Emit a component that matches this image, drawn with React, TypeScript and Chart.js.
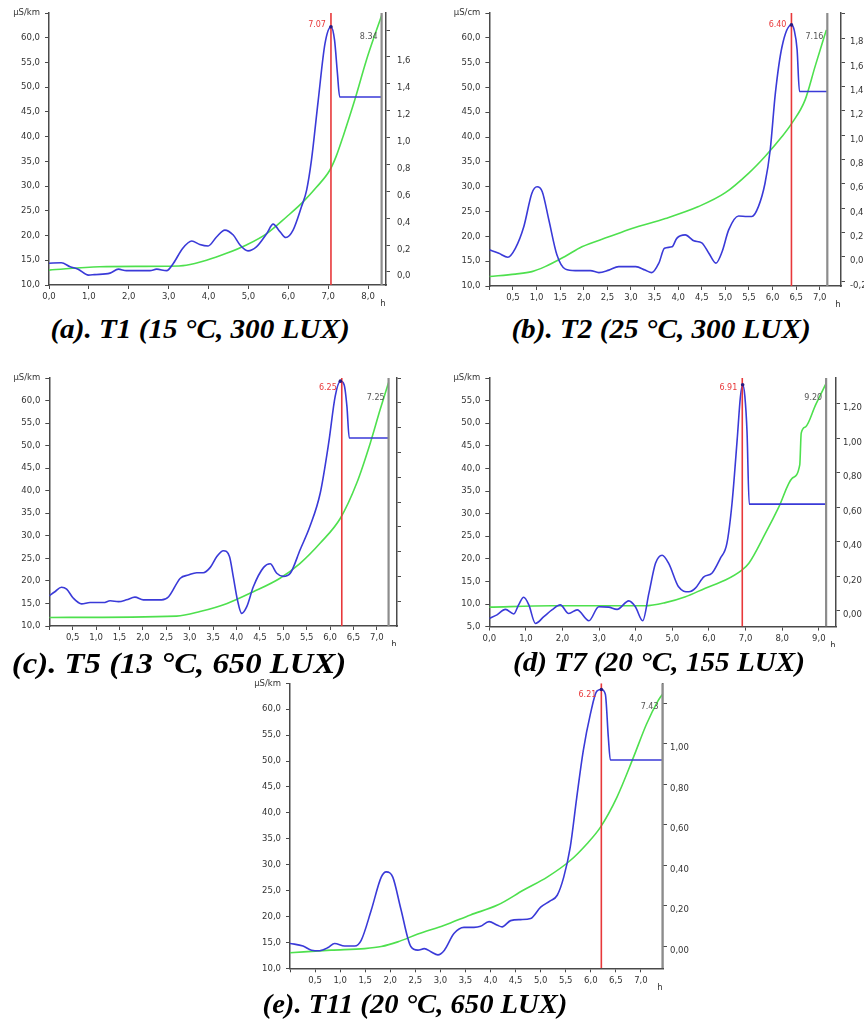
import React, { useEffect, useRef } from "react";
import { Chart, registerables } from "chart.js";
Chart.register(...registerables);

// ---------- Panel (a) T1 ----------
const aBlueH = [0, 0.31, 0.53, 0.73, 0.99, 1.14, 1.53, 1.74, 1.94, 2.53, 2.7, 2.95, 3.12, 3.35, 3.58, 3.78, 3.99, 4.2, 4.41, 4.62, 4.79, 4.99, 5.2, 5.46, 5.62, 5.79, 5.94, 6.12, 6.33, 6.46, 6.58, 6.75, 6.92, 7.07, 7.16, 7.23, 7.29, 8.34];
const aBlueV = [14.4, 14.5, 13.7, 13.2, 12.0, 12.1, 12.4, 13.2, 12.9, 12.9, 13.2, 12.9, 14.4, 17.4, 18.9, 18.2, 17.9, 19.7, 21.1, 20.1, 18.1, 16.9, 17.7, 20.4, 22.3, 20.8, 19.6, 21.1, 25.8, 29.2, 35.2, 47.3, 58.8, 62.2, 59.5, 53.0, 48.0, 48.0];
const aGreenH = [0, 1.27, 2.94, 3.44, 3.95, 4.45, 4.95, 5.46, 5.96, 6.37, 6.71, 7.04, 7.2, 7.38, 7.67, 7.96, 8.21, 8.34];
const aGreenV = [13.0, 13.7, 13.8, 14.0, 15.0, 16.4, 18.1, 20.4, 23.8, 26.8, 29.8, 33.2, 36.0, 40.2, 47.5, 55.5, 61.5, 64.5];
const aXTicks = [0, 1, 2, 3, 4, 5, 6, 7, 8];
const aYTicks = [10, 15, 20, 25, 30, 35, 40, 45, 50, 55, 60, 65];
const aRTicks = [0, 0.2, 0.4, 0.6, 0.8, 1.0, 1.2, 1.4, 1.6, 1.8];
const aMarkers = [7.07, 8.34];

// ---------- Panel (b) T2 ----------
const bBlueH = [0, 0.2, 0.39, 0.55, 0.73, 0.9, 1.01, 1.12, 1.26, 1.43, 1.61, 1.82, 2.14, 2.32, 2.53, 2.74, 3.1, 3.3, 3.44, 3.59, 3.71, 3.87, 3.97, 4.15, 4.33, 4.5, 4.65, 4.8, 4.93, 5.07, 5.28, 5.46, 5.56, 5.7, 5.84, 5.95, 6.06, 6.2, 6.4, 6.46, 6.52, 6.57, 7.16];
const bBlueV = [17.3, 16.6, 15.8, 17.6, 22.0, 28.7, 30.0, 29.0, 23.3, 16.3, 13.4, 13.1, 13.1, 12.7, 13.2, 13.9, 13.9, 13.2, 12.7, 14.6, 17.6, 17.9, 19.6, 20.3, 19.1, 18.7, 16.6, 14.6, 16.9, 21.3, 24.1, 24.0, 24.0, 26.0, 30.7, 37.4, 48.9, 58.2, 62.6, 61.5, 57.6, 49.2, 49.2];
const bGreenH = [0, 0.55, 0.9, 1.18, 1.61, 1.96, 2.53, 3.02, 3.73, 4.43, 5.0, 5.49, 5.84, 6.2, 6.41, 6.69, 6.9, 7.14];
const bGreenV = [11.9, 12.4, 12.9, 13.9, 16.0, 17.9, 19.9, 21.6, 23.6, 26.0, 28.8, 32.7, 36.1, 40.1, 42.8, 47.5, 54.2, 61.6];
const bXTicks = [0, 0.5, 1, 1.5, 2, 2.5, 3, 3.5, 4, 4.5, 5, 5.5, 6, 6.5, 7];
const bYTicks = [10, 15, 20, 25, 30, 35, 40, 45, 50, 55, 60, 65];
const bRTicks = [-0.2, 0, 0.2, 0.4, 0.6, 0.8, 1.0, 1.2, 1.4, 1.6, 1.8, 2.0];
const bMarkers = [6.4, 7.16];

// ---------- Panel (c) T5 ----------
const cBlueH = [0, 0.12, 0.26, 0.37, 0.51, 0.69, 0.87, 1.16, 1.3, 1.48, 1.65, 1.83, 2.01, 2.4, 2.55, 2.8, 2.97, 3.15, 3.29, 3.44, 3.58, 3.72, 3.85, 3.93, 4.02, 4.11, 4.22, 4.36, 4.58, 4.72, 4.86, 5.0, 5.15, 5.36, 5.57, 5.79, 5.97, 6.11, 6.22, 6.3, 6.36, 6.41, 7.25];
const cBlueV = [16.7, 17.6, 18.6, 18.2, 16.2, 14.9, 15.2, 15.2, 15.6, 15.4, 15.8, 16.4, 15.8, 15.8, 16.5, 20.6, 21.3, 21.8, 21.8, 23.0, 25.4, 26.7, 25.4, 21.0, 15.8, 12.8, 14.3, 18.7, 23.0, 23.8, 21.7, 21.0, 21.7, 26.9, 32.1, 39.5, 50.6, 61.0, 64.3, 63.5, 58.7, 51.7, 51.7];
const cGreenH = [0, 2.72, 3.22, 3.8, 4.36, 4.93, 5.36, 5.79, 6.22, 6.57, 6.86, 7.07, 7.25];
const cGreenV = [11.9, 12.2, 13.2, 15.0, 17.6, 20.6, 23.9, 28.4, 33.9, 41.7, 50.6, 58.0, 64.0];
const cXTicks = [0, 0.5, 1, 1.5, 2, 2.5, 3, 3.5, 4, 4.5, 5, 5.5, 6, 6.5, 7];
const cYTicks = [10, 15, 20, 25, 30, 35, 40, 45, 50, 55, 60, 65];
const cRTicks = [0, 0.2, 0.4, 0.6, 0.8, 1.0, 1.2, 1.4, 1.6, 1.8];
const cMarkers = [6.25, 7.25];

// ---------- Panel (d) T7 ----------
const dBlueH = [0, 0.21, 0.44, 0.67, 0.8, 0.94, 1.08, 1.26, 1.49, 1.71, 1.94, 2.17, 2.4, 2.72, 2.99, 3.26, 3.49, 3.81, 3.99, 4.19, 4.36, 4.54, 4.72, 4.9, 5.17, 5.45, 5.63, 5.86, 6.08, 6.31, 6.49, 6.63, 6.77, 6.86, 6.92, 6.98, 7.04, 7.1, 9.2];
const dBlueV = [6.8, 7.6, 8.8, 7.8, 9.8, 11.5, 9.8, 5.7, 7.2, 8.7, 9.8, 7.9, 8.7, 6.3, 9.4, 9.3, 8.8, 10.7, 9.4, 6.3, 12.4, 19.0, 20.8, 19.0, 13.8, 12.7, 13.5, 16.0, 16.8, 20.1, 23.4, 32.3, 46.3, 55.9, 58.5, 56.0, 48.0, 32.1, 32.1];
const dGreenH = [0, 1.7, 4.26, 4.81, 5.36, 5.9, 6.45, 6.9, 7.09, 7.54, 7.91, 8.27, 8.48, 8.52, 8.64, 8.91, 9.2];
const dGreenV = [9.3, 9.6, 9.6, 10.3, 11.6, 13.5, 15.3, 17.5, 19.0, 25.6, 31.5, 37.8, 40.8, 47.8, 49.2, 54.0, 58.8];
const dXTicks = [0, 1, 2, 3, 4, 5, 6, 7, 8, 9];
const dYTicks = [5, 10, 15, 20, 25, 30, 35, 40, 45, 50, 55, 60];
const dRTicks = [0, 0.2, 0.4, 0.6, 0.8, 1.0, 1.2];
const dMarkers = [6.91, 9.2];

// ---------- Panel (e) T11 ----------
const eBlueH = [0, 0.26, 0.43, 0.59, 0.76, 0.89, 1.09, 1.29, 1.42, 1.62, 1.82, 1.92, 2.05, 2.21, 2.41, 2.55, 2.68, 2.81, 2.95, 3.08, 3.27, 3.47, 3.67, 3.8, 3.97, 4.14, 4.23, 4.4, 4.6, 4.8, 5.0, 5.19, 5.33, 5.46, 5.59, 5.72, 5.85, 5.99, 6.12, 6.21, 6.29, 6.35, 6.39, 7.43];
const eBlueV = [14.8, 14.3, 13.5, 13.4, 14.0, 14.8, 14.3, 14.3, 15.4, 21.2, 27.6, 28.6, 27.6, 21.5, 14.2, 13.5, 13.8, 13.2, 12.6, 13.5, 16.7, 17.9, 17.9, 18.1, 19.0, 18.3, 18.0, 19.2, 19.4, 19.6, 21.8, 23.0, 24.1, 27.6, 33.4, 43.0, 52.0, 59.0, 63.5, 63.8, 62.9, 54.5, 50.2, 50.2];
const eGreenH = [0, 0.82, 1.49, 1.82, 2.15, 2.55, 3.08, 3.6, 4.14, 4.66, 5.13, 5.59, 5.92, 6.19, 6.52, 6.85, 7.11, 7.34, 7.43];
const eGreenV = [13.0, 13.5, 13.8, 14.2, 15.1, 16.6, 18.3, 20.3, 22.2, 25.1, 27.6, 30.8, 34.0, 37.2, 43.0, 50.7, 57.1, 61.6, 62.9];
const eXTicks = [0, 0.5, 1, 1.5, 2, 2.5, 3, 3.5, 4, 4.5, 5, 5.5, 6, 6.5, 7];
const eYTicks = [10, 15, 20, 25, 30, 35, 40, 45, 50, 55, 60, 65];
const eRTicks = [0, 0.2, 0.4, 0.6, 0.8, 1.0, 1.2];
const eMarkers = [6.21, 7.43];

const captions = [
  "(a). T1 (15 °C, 300 LUX)",
  "(b). T2 (25 °C, 300 LUX)",
  "(c). T5 (13 °C, 650 LUX)",
  "(d) T7 (20 °C, 155 LUX)",
  "(e). T11 (20 °C, 650 LUX)",
];

const TICK_FONT = { family: "DejaVu Sans", size: 8.5 };
const AXIS_COLOR = "#4a4a4a";
const BLUE = "#3a3ad8";
const GREEN = "#4ee04e";
const RED = "#e8383a";
const GRAY = "#8c8c8c";
const PEAK = "#2a1a80";

const fmt1 = (v: number) => v.toFixed(1).replace(".", ",");
const fmt2 = (v: number) => v.toFixed(2).replace(".", ",");
const fmtMark = (v: number) => v.toFixed(2);

type PanelCfg = {
  left: number; top: number; width: number; height: number;
  padTop: number; leftW: number; rightW: number; bottomH: number;
  xMax: number; xTicks: number[]; zeroLabel: boolean;
  yMin: number; yMax: number; yTicks: number[]; unit: string;
  rMin: number; rMax: number; rTicks: number[]; rHide: number[]; rLabels: boolean; rPad: number;
  blueH: number[]; blueV: number[]; greenH: number[]; greenV: number[];
  markers: number[]; redDy: number; endDy: number;
};

const panels: PanelCfg[] = [
  {
    left: 0, top: 0, width: 411, height: 310, padTop: 13, leftW: 49, rightW: 25, bottomH: 25,
    xMax: 8.45, xTicks: aXTicks, zeroLabel: true,
    yMin: 10, yMax: 65, yTicks: aYTicks, unit: "μS/km",
    rMin: -0.097, rMax: 1.927, rTicks: aRTicks, rHide: [1.8], rLabels: true, rPad: 7,
    blueH: aBlueH, blueV: aBlueV, greenH: aGreenH, greenV: aGreenV,
    markers: aMarkers, redDy: 12, endDy: 24,
  },
  {
    left: 432, top: 0, width: 432, height: 310, padTop: 13, leftW: 57.4, rightW: 23, bottomH: 24,
    xMax: 7.45, xTicks: bXTicks, zeroLabel: false,
    yMin: 10, yMax: 65, yTicks: bYTicks, unit: "μS/cm",
    rMin: -0.24, rMax: 2.006, rTicks: bRTicks, rHide: [2.0], rLabels: true, rPad: 5,
    blueH: bBlueH, blueV: bBlueV, greenH: bGreenH, greenV: bGreenV,
    markers: bMarkers, redDy: 12, endDy: 24,
  },
  {
    left: 0, top: 360, width: 411, height: 286, padTop: 18, leftW: 49.3, rightW: 14, bottomH: 20,
    xMax: 7.43, xTicks: cXTicks, zeroLabel: false,
    yMin: 10, yMax: 65, yTicks: cYTicks, unit: "μS/km",
    rMin: -0.2, rMax: 1.8, rTicks: cRTicks, rHide: [], rLabels: false, rPad: 3,
    blueH: cBlueH, blueV: cBlueV, greenH: cGreenH, greenV: cGreenV,
    markers: cMarkers, redDy: 10, endDy: 20,
  },
  {
    left: 432, top: 360, width: 432, height: 287, padTop: 18, leftW: 57.3, rightW: 28, bottomH: 20.4,
    xMax: 9.47, xTicks: dXTicks, zeroLabel: true,
    yMin: 5, yMax: 60, yTicks: dYTicks, unit: "μS/km",
    rMin: -0.093, rMax: 1.35, rTicks: dRTicks, rHide: [], rLabels: true, rPad: 3,
    blueH: dBlueH, blueV: dBlueV, greenH: dGreenH, greenV: dGreenV,
    markers: dMarkers, redDy: 10, endDy: 20,
  },
  {
    left: 230, top: 665, width: 470, height: 325, padTop: 18.3, leftW: 60, rightW: 37, bottomH: 21.7,
    xMax: 7.44, xTicks: eXTicks, zeroLabel: false,
    yMin: 10, yMax: 65, yTicks: eYTicks, unit: "μS/km",
    rMin: -0.109, rMax: 1.30, rTicks: eRTicks, rHide: [1.2], rLabels: true, rPad: 3,
    blueH: eBlueH, blueV: eBlueV, greenH: eGreenH, greenV: eGreenV,
    markers: eMarkers, redDy: 12, endDy: 24,
  },
];

const captionPos = [
  { cx: 200, top: 316, size: 27, sx: 1.08 },
  { cx: 661, top: 316, size: 27, sx: 1.08 },
  { cx: 179, top: 649, size: 29, sx: 1.13 },
  { cx: 659, top: 649, size: 27, sx: 1.08 },
  { cx: 415, top: 991, size: 27, sx: 1.06 },
];

const pairs = (xs: number[], ys: number[]) => xs.map((x, i) => ({ x, y: ys[i] }));

function ChartPanel({ p }: { p: PanelCfg }) {
  const ref = useRef<HTMLCanvasElement | null>(null);
  useEffect(() => {
    if (!ref.current) return;
    const [redAt, endAt] = p.markers;
    let pk = 0;
    p.blueV.forEach((v, i) => { if (v > p.blueV[pk]) pk = i; });
    const textPlugin = {
      id: "panelText",
      afterDraw(chart: any) {
        const ctx = chart.ctx;
        const xs = chart.scales.x;
        const area = chart.chartArea;
        ctx.save();
        ctx.font = '8px "DejaVu Sans"';
        ctx.textBaseline = "middle";
        ctx.textAlign = "right";
        ctx.fillStyle = RED;
        ctx.fillText(fmtMark(redAt), xs.getPixelForValue(redAt) - 5, area.top + p.redDy);
        ctx.fillStyle = "#555";
        ctx.fillText(fmtMark(endAt), xs.getPixelForValue(endAt) - 4, area.top + p.endDy);
        ctx.textAlign = "center";
        ctx.fillStyle = "#333";
        ctx.font = '8.5px "DejaVu Sans"';
        ctx.fillText("h", area.right - 3, area.bottom + 19);
        ctx.restore();
      },
    };
    const chart = new Chart(ref.current, {
      type: "line",
      data: {
        datasets: [
          { data: [{ x: p.blueH[pk], y: p.blueV[pk] }], borderColor: PEAK, backgroundColor: PEAK, showLine: false, pointRadius: 1.8, pointBorderWidth: 0, yAxisID: "y" },
          { data: pairs([redAt, redAt], [p.yMin, p.yMax]), borderColor: RED, borderWidth: 1.6, pointRadius: 0, yAxisID: "y" },
          { data: pairs([endAt, endAt], [p.yMin, p.yMax]), borderColor: GRAY, borderWidth: 2.2, pointRadius: 0, yAxisID: "y" },
          { data: pairs(p.blueH, p.blueV), borderColor: BLUE, borderWidth: 1.6, pointRadius: 0, tension: 0.4, cubicInterpolationMode: "monotone", yAxisID: "y" },
          { data: pairs(p.greenH, p.greenV), borderColor: GREEN, borderWidth: 1.6, pointRadius: 0, tension: 0.4, cubicInterpolationMode: "monotone", yAxisID: "y" },
        ],
      },
      options: {
        responsive: false,
        animation: false,
        devicePixelRatio: 1,
        layout: { padding: { top: p.padTop, left: 0, right: 0, bottom: 0 } },
        plugins: { legend: { display: false }, tooltip: { enabled: false } },
        events: [],
        scales: {
          x: {
            type: "linear",
            position: "bottom",
            min: 0,
            max: p.xMax,
            afterBuildTicks: (ax: any) => { ax.ticks = p.xTicks.map((v) => ({ value: v })); },
            afterFit: (ax: any) => { ax.height = p.bottomH; },
            ticks: {
              autoSkip: false, maxRotation: 0, padding: 3, font: TICK_FONT, color: "#333",
              callback: (v: any) => (v === 0 && !p.zeroLabel ? "" : fmt1(Number(v))),
            },
            grid: { drawOnChartArea: false, drawTicks: true, tickLength: 4, color: AXIS_COLOR, lineWidth: 1 },
            border: { display: true, color: AXIS_COLOR, width: 1.5 },
          },
          y: {
            type: "linear",
            position: "left",
            min: p.yMin,
            max: p.yMax,
            afterBuildTicks: (ax: any) => { ax.ticks = p.yTicks.map((v) => ({ value: v })); },
            afterFit: (ax: any) => { ax.width = p.leftW; },
            ticks: {
              autoSkip: false, padding: 5, font: TICK_FONT, color: "#333",
              callback: (v: any) => (Number(v) === p.yMax ? p.unit : fmt1(Number(v))),
            },
            grid: { drawOnChartArea: false, drawTicks: true, tickLength: 4, color: AXIS_COLOR, lineWidth: 1 },
            border: { display: true, color: AXIS_COLOR, width: 1.5 },
          },
          y2: {
            type: "linear",
            position: "right",
            min: p.rMin,
            max: p.rMax,
            afterBuildTicks: (ax: any) => { ax.ticks = p.rTicks.map((v) => ({ value: v })); },
            afterFit: (ax: any) => { ax.width = p.rightW; },
            ticks: {
              autoSkip: false, padding: p.rPad, font: TICK_FONT, color: "#333", align: "start",
              callback: (v: any) => {
                const n = Number(v);
                if (!p.rLabels) return "";
                if (p.rHide.some((h) => Math.abs(h - n) < 1e-6)) return "";
                return fmt2(n);
              },
            },
            grid: { drawOnChartArea: false, drawTicks: true, tickLength: 4, color: AXIS_COLOR, lineWidth: 1 },
            border: { display: true, color: AXIS_COLOR, width: 1.5 },
          },
        },
      } as any,
      plugins: [textPlugin],
    });
    return () => chart.destroy();
  }, [p]);
  return (
    <canvas
      ref={ref}
      width={p.width}
      height={p.height}
      style={{ position: "absolute", left: p.left, top: p.top, width: p.width, height: p.height }}
    />
  );
}

export default function App() {
  return (
    <div style={{ position: "fixed", left: 0, top: 0, width: 864, height: 1024, overflow: "hidden", background: "#fff" }}>
      {panels.map((p, i) => (
        <ChartPanel key={i} p={p} />
      ))}
      {captions.map((c, i) => (
        <div
          key={"c" + i}
          style={{
            position: "absolute",
            left: captionPos[i].cx,
            top: captionPos[i].top,
            transform: `translateX(-50%) scaleX(${captionPos[i].sx})`,
            transformOrigin: "center",
            whiteSpace: "nowrap",
            fontFamily: '"Liberation Serif", serif',
            fontWeight: "bold",
            fontStyle: "italic",
            fontSize: captionPos[i].size,
            lineHeight: 1,
            color: "#000",
          }}
        >
          {c}
        </div>
      ))}
    </div>
  );
}
